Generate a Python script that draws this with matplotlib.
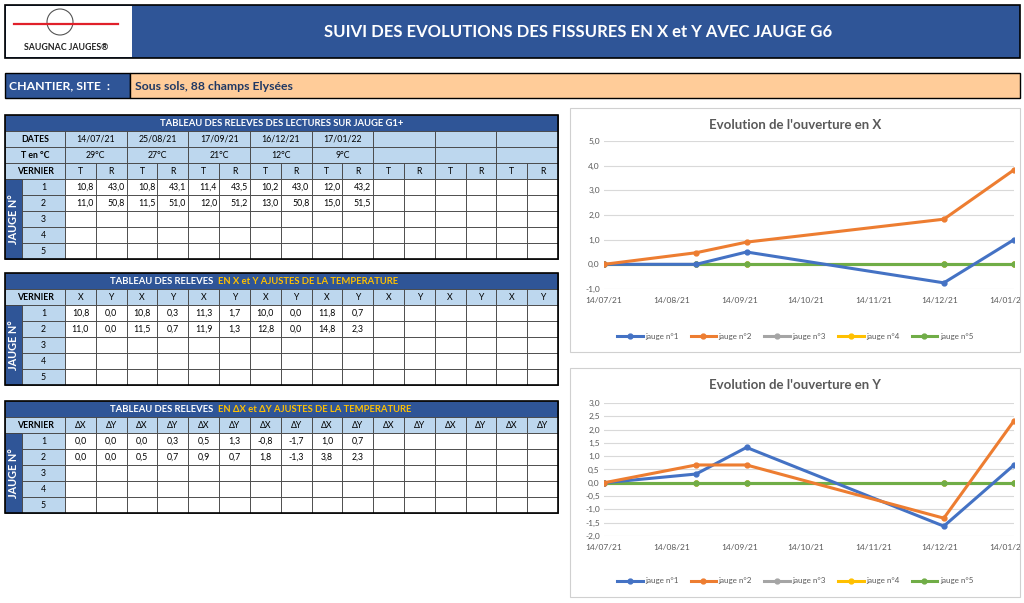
import matplotlib
matplotlib.use("Agg")
import matplotlib.pyplot as plt
from matplotlib.patches import Rectangle, Circle
from matplotlib.ticker import FuncFormatter, MultipleLocator
from matplotlib.transforms import Bbox, TransformedBbox
import pandas as pd

plt.rcParams["font.family"] = "Lato"

# ---- data ----
dates = ["14/07/21", "25/08/21", "17/09/21", "16/12/21", "17/01/22"]
temps = ["29°C", "27°C", "21°C", "12°C", "9°C"]
lect_t = [[10.8, 10.8, 11.4, 10.2, 12.0], [11.0, 11.5, 12.0, 13.0, 15.0]]
lect_r = [[43.0, 43.1, 43.5, 43.0, 43.2], [50.8, 51.0, 51.2, 50.8, 51.5]]
adj_x = [[10.8, 10.8, 11.3, 10.0, 11.8], [11.0, 11.5, 11.9, 12.8, 14.8]]
adj_y = [[0.0, 0.3, 1.7, 0.0, 0.7], [0.0, 0.7, 1.3, 0.0, 2.3]]
d_x = [[0.0, 0.0, 0.5, -0.8, 1.0], [0.0, 0.5, 0.9, 1.8, 3.8]]
d_y = [[0.0, 0.3, 1.3, -1.7, 0.7], [0.0, 0.7, 0.7, -1.3, 2.3]]

# chart series (as plotted)
chart_x = [[0.0, 0.0, 0.5, -0.75, 1.0], [0.0, 0.47, 0.9, 1.83, 3.83],
           [0] * 5, [0] * 5, [0] * 5]
chart_y = [[0.0, 0.33, 1.33, -1.63, 0.67], [0.0, 0.67, 0.67, -1.33, 2.33],
           [0] * 5, [0] * 5, [0] * 5]
series_names = ["jauge n°1", "jauge n°2", "jauge n°3", "jauge n°4", "jauge n°5"]
series_colors = ["#4472C4", "#ED7D31", "#A5A5A5", "#FFC000", "#70AD47"]

DARK = "#2F5597"
LIGHT = "#BDD7EE"
PEACH = "#FFCC99"
YEL = "#FFC000"

W, H = 1024, 603
fig = plt.figure(figsize=(W / 100, H / 100), dpi=100)
bg = fig.add_axes([0, 0, 1, 1])
bg.set_xlim(0, W)
bg.set_ylim(H, 0)
bg.axis("off")


def rect(x0, y0, x1, y1, fc, ec="#404040", lw=0.6, z=1):
    bg.add_patch(Rectangle((x0, y0), x1 - x0, y1 - y0, fc=fc, ec=ec, lw=lw, zorder=z))


def txt(x, y, s, ha="center", **kw):
    kw.setdefault("fontsize", 6.3)
    kw.setdefault("color", "black")
    bg.text(x, y, s, ha=ha, va="center", zorder=5, **kw)


fmt = lambda v: f"{v:.1f}".replace(".", ",")

# ---- header ----
rect(5, 5, 1020, 58, DARK, ec="black", lw=1.2)
rect(6, 6, 132, 57, "white", ec="none")
bg.add_patch(Circle((60, 22), 13, fc="none", ec="#555555", lw=0.8, zorder=3))
bg.plot([14, 118], [24, 24], color="#E0202A", lw=1.6, zorder=4)
txt(66, 48, "SAUGNAC JAUGES®", fontsize=6.3, fontweight="bold", color="#222222")
txt(578, 32, "SUIVI DES EVOLUTIONS DES FISSURES EN X et Y AVEC JAUGE G6",
    fontsize=12, fontweight="bold", color="white")

rect(5, 73, 130, 98, DARK, ec="black", lw=1)
rect(130, 73, 1020, 98, PEACH, ec="black", lw=1)
txt(9, 86, "CHANTIER, SITE  :", ha="left", fontsize=8.8, fontweight="bold", color="white")
txt(135, 86, "Sous sols, 88 champs Elysées", ha="left", fontsize=8.8,
    fontweight="bold", color="#1F3864")

# ---- tables ----
X0, XN, XD, X1 = 5, 22, 65, 558
CW = (X1 - XD) / 16
RH = 16


def col(i):
    return XD + i * CW


def table(ytop, title_w, title_y, header_rows, sub, values, right=False):
    rect(X0, ytop, X1, ytop + RH, DARK)
    if title_y:
        txt(216, ytop + 8, title_w, ha="right", fontsize=6.8, fontweight="bold", color="white")
        txt(218, ytop + 8, title_y, ha="left", fontsize=6.8, fontweight="bold", color=YEL)
    else:
        txt((X0 + X1) / 2, ytop + 8, title_w, fontsize=6.8, fontweight="bold", color="white")
    y = ytop + RH
    for label, items in header_rows:
        rect(X0, y, XD, y + RH, LIGHT)
        txt((X0 + XD) / 2, y + 8, label, fontweight="bold")
        for k in range(8):
            rect(col(2 * k), y, col(2 * k + 2), y + RH, LIGHT)
            if k < len(items):
                txt((col(2 * k) + col(2 * k + 2)) / 2, y + 8, items[k])
        y += RH
    rect(X0, y, XD, y + RH, LIGHT)
    txt((X0 + XD) / 2, y + 8, "VERNIER", fontweight="bold")
    for i in range(16):
        rect(col(i), y, col(i + 1), y + RH, LIGHT)
        txt((col(i) + col(i + 1)) / 2, y + 8, sub[i % 2])
    y += RH
    rect(X0, y, XN, y + 5 * RH, DARK)
    txt((X0 + XN) / 2, y + 2.5 * RH, "JAUGE N°", rotation=90, fontsize=7.8,
        fontweight="bold", color="white")
    for r in range(5):
        yy = y + r * RH
        rect(XN, yy, XD, yy + RH, LIGHT)
        txt((XN + XD) / 2, yy + 8, str(r + 1))
        for i in range(16):
            rect(col(i), yy, col(i + 1), yy + RH, "white")
        if r < len(values[0]):
            for k in range(5):
                for j in range(2):
                    v = fmt(values[j][r][k])
                    if right:
                        txt(col(2 * k + j + 1) - 2, yy + 8, v, ha="right")
                    else:
                        txt((col(2 * k + j) + col(2 * k + j + 1)) / 2, yy + 8, v)
    rect(X0, ytop, X1, y + 5 * RH, "none", ec="black", lw=1.2, z=4)


table(115, "TABLEAU DES RELEVES DES LECTURES SUR JAUGE G1+", None,
      [("DATES", dates), ("T en °C", temps)], ("T", "R"), (lect_t, lect_r), right=True)
table(273, "TABLEAU DES RELEVES ", "EN X et Y AJUSTES DE LA TEMPERATURE",
      [], ("X", "Y"), (adj_x, adj_y))
table(401, "TABLEAU DES RELEVES ", "EN ΔX et ΔY AJUSTES DE LA TEMPERATURE",
      [], ("ΔX", "ΔY"), (d_x, d_y))

# ---- charts ----
xdates = pd.to_datetime(dates, format="%d/%m/%y")
ticks = pd.date_range("2021-07-14", periods=7, freq=pd.DateOffset(months=1))


def chart(frame, plot, title, data, ylim, step):
    rect(*frame, "white", ec="#D0D0D0", lw=0.8)
    fx0, fy0, fx1, fy1 = frame
    px0, py_top, px1, py_bot = plot
    ax = fig.add_axes([px0 / W, 1 - py_bot / H, (px1 - px0) / W, (py_bot - py_top) / H])
    ax.set_facecolor("none")
    for s in [2, 3, 4, 0, 1]:
        ax.plot(xdates, data[s], color=series_colors[s], lw=2.2, marker="o", ms=3.5,
                label=series_names[s], zorder=3 if s < 2 else 2)
    ax.set_xlim(ticks[0], xdates[-1])
    ax.set_ylim(*ylim)
    ax.yaxis.set_major_locator(MultipleLocator(step))
    ax.yaxis.set_major_formatter(FuncFormatter(lambda v, p: fmt(v)))
    ax.set_xticks(ticks)
    ax.set_xticklabels([t.strftime("%d/%m/%y") for t in ticks])
    ax.grid(axis="y", color="#D9D9D9", lw=0.8)
    for sp in ax.spines.values():
        sp.set_visible(False)
    ax.tick_params(length=0, labelsize=6, colors="#595959", pad=3)
    ax.tick_params(axis="x", pad=6)
    clip = TransformedBbox(Bbox([[fx0 / W, 1 - fy1 / H], [fx1 / W, 1 - fy0 / H]]),
                           fig.transFigure)
    for lab in ax.get_xticklabels():
        lab.set_clip_box(clip)
        lab.set_clip_on(True)
    bg.text((fx0 + fx1) / 2, fy0 + 17, title, ha="center", va="center", fontsize=9.5,
            fontweight="bold", color="#595959")
    handles, labels = ax.get_legend_handles_labels()
    order = [labels.index(n) for n in series_names]
    fig.legend([handles[i] for i in order], series_names, ncol=5, frameon=False,
               fontsize=5.8, loc="center", labelcolor="#595959", handlelength=3.2,
               bbox_to_anchor=((fx0 + fx1) / 2 / W, 1 - (fy1 - 16) / H),
               columnspacing=1.5, handletextpad=0.3)


chart((570, 108, 1020, 352), (604, 141, 1014, 289), "Evolution de l'ouverture en X",
      chart_x, (-1.0, 5.0), 1.0)
chart((570, 368, 1020, 597), (604, 403, 1014, 536), "Evolution de l'ouverture en Y",
      chart_y, (-2.0, 3.0), 0.5)

fig.savefig("out.png", dpi=100)
